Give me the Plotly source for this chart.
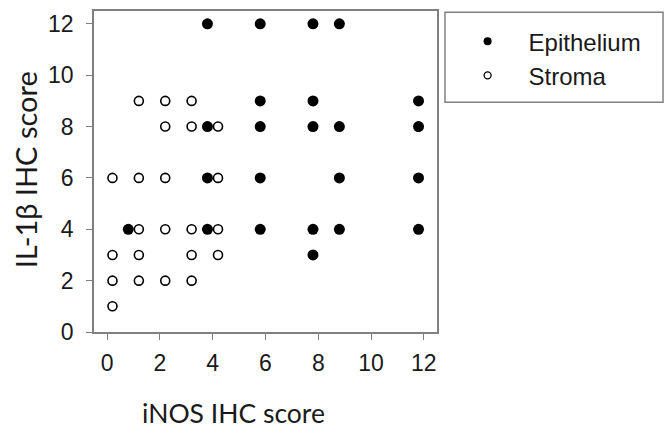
import plotly.graph_objects as go

# Epithelium (filled) points
epi_x = [3.8, 5.8, 7.8, 8.8,
         5.8, 7.8, 11.8,
         3.8, 5.8, 7.8, 8.8, 11.8,
         3.8, 5.8, 8.8, 11.8,
         0.8, 3.8, 5.8, 7.8, 8.8, 11.8,
         7.8]
epi_y = [12, 12, 12, 12,
         9, 9, 9,
         8, 8, 8, 8, 8,
         6, 6, 6, 6,
         4, 4, 4, 4, 4, 4,
         3]

# Stroma (open) points
str_x = [1.2, 2.2, 3.2,
         2.2, 3.2, 4.2,
         0.2, 1.2, 2.2, 4.2,
         1.2, 2.2, 3.2, 4.2,
         0.2, 1.2, 3.2, 4.2,
         0.2, 1.2, 2.2, 3.2,
         0.2]
str_y = [9, 9, 9,
         8, 8, 8,
         6, 6, 6, 6,
         4, 4, 4, 4,
         3, 3, 3, 3,
         2, 2, 2, 2,
         1]

tick_vals = [0, 2, 4, 6, 8, 10, 12]
tick_text = ["0", "2", "4", "6", "8", "10", "12"]
series_names = ["Epithelium", "Stroma"]
x_title = "iNOS IHC score"
y_title = "IL-1β IHC score"

fig = go.Figure()
fig.add_trace(go.Scatter(x=str_x, y=str_y, mode="markers", showlegend=False,
                         marker=dict(symbol="circle-open", size=9, color="black",
                                     line=dict(width=1.6, color="black"))))
fig.add_trace(go.Scatter(x=epi_x, y=epi_y, mode="markers", showlegend=False,
                         marker=dict(symbol="circle", size=11, color="black")))
# legend entries (smaller symbols)
fig.add_trace(go.Scatter(x=[None], y=[None], mode="markers", name=series_names[0],
                         marker=dict(symbol="circle", size=8, color="black")))
fig.add_trace(go.Scatter(x=[None], y=[None], mode="markers", name=series_names[1],
                         marker=dict(symbol="circle-open", size=7, color="black",
                                     line=dict(width=1.3, color="black"))))

axis_common = dict(showline=True, linecolor="#808080", linewidth=1.5, mirror=True,
                   ticks="outside", ticklen=6, tickcolor="#808080", tickwidth=1.2,
                   showgrid=False, zeroline=False, automargin=False,
                   tickfont=dict(family="Liberation Sans, Arial, sans-serif", size=23, color="#1a1a1a"),
                   tickvals=tick_vals, ticktext=tick_text)

fig.update_xaxes(range=[-0.5, 12.5], ticklabelstandoff=4, **axis_common)
fig.update_yaxes(range=[0, 12.5], ticklabelstandoff=8, **axis_common)

fig.update_layout(
    width=664, height=429,
    margin=dict(l=94, r=227, t=11, b=97, autoexpand=False),
    plot_bgcolor="white", paper_bgcolor="white",
    legend=dict(x=1.028, y=0.975, xanchor="left", yanchor="top",
                font=dict(family="Liberation Sans, Arial, sans-serif", size=24, color="#1a1a1a"),
                itemwidth=72, bgcolor="rgba(0,0,0,0)", borderwidth=0, tracegroupgap=0),
    shapes=[dict(type="rect", xref="paper", yref="paper",
                 x0=1.0233, x1=1.659, y0=0.7156, y1=0.996,
                 line=dict(color="#808080", width=1.5))],
    annotations=[
        dict(text=x_title, xref="paper", yref="paper", x=0.408, y=-0.253,
             showarrow=False, xanchor="center", yanchor="middle",
             font=dict(family="Lato, Open Sans, sans-serif", size=26.5, color="#1a1a1a")),
        dict(text=y_title, xref="paper", yref="paper", x=-0.2, y=0.505,
             showarrow=False, xanchor="center", yanchor="middle", textangle=-90,
             font=dict(family="Lato, Open Sans, sans-serif", size=29, color="#1a1a1a")),
    ],
)

fig.write_html("out.html", config={"displayModeBar": False},
               post_script="document.body.style.margin='0';")
